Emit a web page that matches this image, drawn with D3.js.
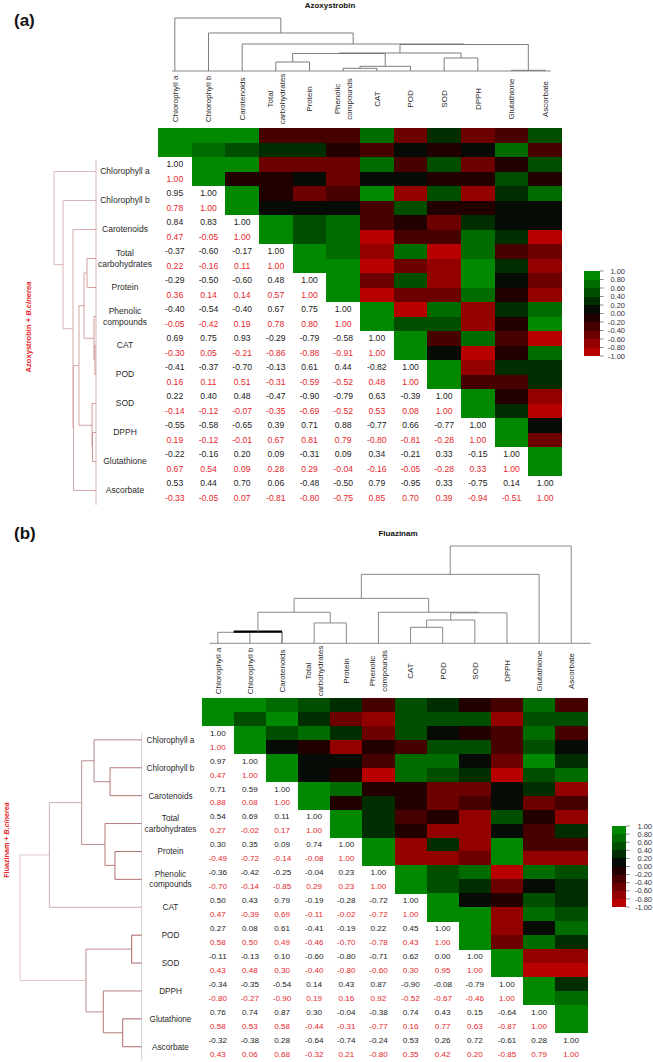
<!DOCTYPE html>
<html><head><meta charset="utf-8">
<script src="https://cdn.jsdelivr.net/npm/d3@7"></script>
<style>
html,body{margin:0;padding:0;background:#fff;}
svg{display:block;font-family:"Liberation Sans",Arial,Helvetica,sans-serif;}
</style></head><body>
<svg id="chart" width="653" height="1062"></svg>
<script>
// ---------- DATA ----------
const variables = ["Chlorophyll a","Chlorophyll b","Carotenoids","Total\ncarbohydrates","Protein","Phenolic\ncompounds","CAT","POD","SOD","DPPH","Glutathione","Ascorbate"];

// lower-triangular correlation rows (row i: correlations with variables 0..i)
const azoxyCorr = [
 [1.00],
 [0.95,1.00],
 [0.84,0.83,1.00],
 [-0.37,-0.60,-0.17,1.00],
 [-0.29,-0.50,-0.60,0.48,1.00],
 [-0.40,-0.54,-0.40,0.67,0.75,1.00],
 [0.69,0.75,0.93,-0.29,-0.79,-0.58,1.00],
 [-0.41,-0.37,-0.70,-0.13,0.61,0.44,-0.82,1.00],
 [0.22,0.40,0.48,-0.47,-0.90,-0.79,0.63,-0.39,1.00],
 [-0.55,-0.58,-0.65,0.39,0.71,0.88,-0.77,0.66,-0.77,1.00],
 [-0.22,-0.16,0.20,0.09,-0.31,0.09,0.34,-0.21,0.33,-0.15,1.00],
 [0.53,0.44,0.70,0.06,-0.48,-0.50,0.79,-0.95,0.33,-0.75,0.14,1.00]
];
const azoxyBcCorr = [
 [1.00],
 [0.78,1.00],
 [0.47,-0.05,1.00],
 [0.22,-0.16,0.11,1.00],
 [0.36,0.14,0.14,0.57,1.00],
 [-0.05,-0.42,0.19,0.78,0.80,1.00],
 [-0.30,0.05,-0.21,-0.86,-0.88,-0.91,1.00],
 [0.16,0.11,0.51,-0.31,-0.59,-0.52,0.48,1.00],
 [-0.14,-0.12,-0.07,-0.35,-0.69,-0.52,0.53,0.08,1.00],
 [0.19,-0.12,-0.01,0.67,0.81,0.79,-0.80,-0.81,-0.28,1.00],
 [0.67,0.54,0.09,0.28,0.29,-0.04,-0.16,-0.05,-0.28,0.33,1.00],
 [-0.33,-0.05,0.07,-0.81,-0.80,-0.75,0.85,0.70,0.39,-0.94,-0.51,1.00]
];
const fluazCorr = [
 [1.00],
 [0.97,1.00],
 [0.71,0.59,1.00],
 [0.54,0.69,0.11,1.00],
 [0.30,0.35,0.09,0.74,1.00],
 [-0.36,-0.42,-0.25,-0.04,0.23,1.00],
 [0.50,0.43,0.79,-0.19,-0.28,-0.72,1.00],
 [0.27,0.08,0.61,-0.41,-0.19,0.22,0.45,1.00],
 [-0.11,-0.13,0.10,-0.60,-0.80,-0.71,0.62,0.00,1.00],
 [-0.34,-0.35,-0.54,0.14,0.43,0.87,-0.90,-0.08,-0.79,1.00],
 [0.76,0.74,0.87,0.30,-0.04,-0.38,0.74,0.43,0.15,-0.64,1.00],
 [-0.32,-0.38,0.28,-0.64,-0.74,-0.24,0.53,0.26,0.72,-0.61,0.28,1.00]
];
const fluazBcCorr = [
 [1.00],
 [0.47,1.00],
 [0.88,0.08,1.00],
 [0.27,-0.02,0.17,1.00],
 [-0.49,-0.72,-0.14,-0.08,1.00],
 [-0.70,-0.14,-0.85,0.29,0.23,1.00],
 [0.47,-0.39,0.69,-0.11,-0.02,-0.72,1.00],
 [0.58,0.50,0.49,-0.46,-0.70,-0.78,0.43,1.00],
 [0.43,0.48,0.30,-0.40,-0.80,-0.60,0.30,0.95,1.00],
 [-0.80,-0.27,-0.90,0.19,0.16,0.92,-0.52,-0.67,-0.46,1.00],
 [0.58,0.53,0.58,-0.44,-0.31,-0.77,0.16,0.77,0.63,-0.87,1.00],
 [0.43,0.06,0.68,-0.32,0.21,-0.80,0.35,0.42,0.20,-0.85,0.79,1.00]
];

// dendrogram merges, hclust style: negative = leaf (1-based), positive = earlier merge; third = relative height
const azoxyTopMerges = [
 [-6,-7,0.051],[1,-8,0.089],[-4,-5,0.170],[-9,-10,0.245],[3,2,0.330],[5,4,0.340],
 [-11,-12,0.013],[6,7,0.500],[-3,8,0.509],[-2,9,0.717],[-1,10,1.0]
];
const azoxyBcLeftMerges = [
 [-7,-8,0.024],[-6,1,0.048],[-10,-11,0.083],[-9,3,0.095],[-4,-5,0.214],[5,2,0.286],
 [6,4,0.405],[7,-12,0.536],[-3,8,0.548],[-2,9,0.786],[-1,10,1.0]
];
const fluazTopMerges = [
 [-1,-2,0.113],[1,-3,0.119],[-4,-5,0.209],[-7,-8,0.164],[4,-9,0.239],[5,-10,0.313],
 [-6,6,0.319],[2,3,0.319],[8,7,0.462],[9,-11,0.709],[10,-12,1.0]
];
const fluazBcLeftMerges = [
 [-2,-3,0.250],[-1,1,0.376],[-5,-6,0.211],[-4,3,0.290],[2,4,0.474],[5,-7,0.729],
 [-8,-9,0.079],[-11,-12,0.150],[-10,8,0.303],[7,9,0.440],[6,10,0.96]
];

const legendTicks = ["1.00","0.80","0.60","0.40","0.20","0.00","-0.20","-0.40","-0.60","-0.80","-1.00"];
const binColors = ["#b80000","#920000","#6c0000","#460000","#220000","#060b06","#002e00","#004e00","#006c00","#008800"];

// ---------- DRAW ----------
const svg = d3.select("#chart");
const color = d3.scaleQuantize().domain([-1,1]).range(binColors);
const fmt = v => v.toFixed(2);
const RED = "#e8262b";

const panels = [
 { label:"(a)", labelX:14, labelY:26, title:"Azoxystrobin", titleX:330, titleY:8,
   top:azoxyCorr, bottom:azoxyBcCorr, topMerges:azoxyTopMerges, leftMerges:azoxyBcLeftMerges,
   heatX0:158, heatX1:562, heatY0:128, rowH:29,
   colLabelY:99, rowLabelX:125, colFont:8, rowFont:8.5, numFont:8.6, lineGap:11,
   topBase:71, topMax:18, topLineX:[172,551], topColor:"#6f6f6f", bold:-1,
   leftBase:96, leftMax:54, leftLineY:[160,505], leftLo:"#c98d8d", leftHi:"#d9b3b3", leftBaseColor:"#d8b4b4",
   side:"Azoxystrobin + ", sideX:31, sideY:327, sideFont:7.6,
   legX:584, legW:16, legY:271, legH:85, legTextX:625 },
 { label:"(b)", labelX:14, labelY:539, title:"Fluazinam", titleX:398, titleY:536,
   top:fluazCorr, bottom:fluazBcCorr, topMerges:fluazTopMerges, leftMerges:fluazBcLeftMerges,
   heatX0:201.7, heatX1:587.3, heatY0:698, rowH:27.9,
   colLabelY:671, rowLabelX:170.5, colFont:8, rowFont:8.2, numFont:8.1, lineGap:10.5,
   topBase:643.3, topMax:546, topLineX:[209.6,590.8], topColor:"#7a7a7a", bold:1,
   leftBase:141.7, leftMax:15, leftLineY:[733,1061], leftLo:"#9a4646", leftHi:"#dcc6c6", leftBaseColor:"#d6d0d0",
   side:"Fluazinam + ", sideX:9, sideY:840, sideFont:7.2,
   legX:612, legW:14, legY:826, legH:81, legTextX:652 }
];

function buildNodes(merges, leafPos) {
  const nodes = [];
  const get = id => id < 0 ? {pos: leafPos[-id-1], h: 0} : nodes[id-1];
  merges.forEach(([a,b,h]) => {
    const A = get(a), B = get(b);
    nodes.push({pos:(A.pos+B.pos)/2, h, A, B});
  });
  return nodes;
}

panels.forEach(p => {
  const g = svg.append("g");
  const n = variables.length;
  const xs = d3.scaleBand().domain(d3.range(n)).range([p.heatX0, p.heatX1]);
  const ys = d3.scaleBand().domain(d3.range(n+1)).range([p.heatY0, p.heatY0 + (n+1)*p.rowH]);
  const cw = xs.bandwidth(), rh = ys.bandwidth();

  // panel label and title
  g.append("text").attr("x", p.labelX).attr("y", p.labelY).text(p.label)
    .attr("font-size", 17).attr("font-weight", "bold").attr("fill", "#111");
  g.append("text").attr("x", p.titleX).attr("y", p.titleY).text(p.title)
    .attr("font-size", 8).attr("font-weight", "bold").attr("text-anchor", "middle").attr("fill", "#111");

  // heat cells (upper part, shifted one row up)
  const cells = [];
  for (let r = 0; r < n; r++) for (let j = r; j < n; j++) {
    cells.push({x: xs(j), y: ys(r), v: p.top[j][r]});
    cells.push({x: xs(j), y: ys(r) + rh/2, v: p.bottom[j][r]});
  }
  g.append("g").selectAll("rect").data(cells).join("rect")
    .attr("x", d => d.x).attr("y", d => d.y)
    .attr("width", cw + 0.4).attr("height", rh/2 + 0.4)
    .attr("fill", d => color(d.v)).attr("shape-rendering", "crispEdges");

  // numbers (lower triangle incl. diagonal)
  const nums = [];
  for (let r = 0; r < n; r++) for (let j = 0; j <= r; j++) {
    nums.push({x: xs(j) + cw/2, y: ys(r+1) + rh*0.25, v: p.top[r][j], c: "#222"});
    nums.push({x: xs(j) + cw/2, y: ys(r+1) + rh*0.75, v: p.bottom[r][j], c: RED});
  }
  g.append("g").selectAll("text").data(nums).join("text")
    .attr("x", d => d.x).attr("y", d => d.y).attr("dy", "0.35em")
    .attr("text-anchor", "middle").attr("font-size", p.numFont)
    .attr("fill", d => d.c).text(d => fmt(d.v));

  // row labels
  variables.forEach((name, i) => {
    const lines = name.split("\n");
    const cy = ys(i+1) + rh/2;
    const t = g.append("text").attr("text-anchor", "middle").attr("font-size", p.rowFont).attr("fill", "#2a2a2a");
    lines.forEach((ln, k) => {
      t.append("tspan").attr("x", p.rowLabelX)
        .attr("y", cy + (k - (lines.length-1)/2) * p.lineGap).attr("dy", "0.35em").text(ln);
    });
  });

  // column labels (rotated)
  variables.forEach((name, i) => {
    const lines = name.split("\n");
    const cx = xs(i) + cw/2;
    lines.forEach((ln, k) => {
      const off = (k - (lines.length-1)/2) * 12;
      g.append("text").attr("transform", `translate(${cx + off},${p.colLabelY}) rotate(-90)`)
        .attr("text-anchor", "middle").attr("dy", "0.35em")
        .attr("font-size", p.colFont).attr("fill", "#2a2a2a").text(ln);
    });
  });

  // top dendrogram
  const hTop = d3.scaleLinear().domain([0,1]).range([p.topBase, p.topMax]);
  const topLeaf = d3.range(n).map(i => xs(i) + cw/2);
  const topNodes = buildNodes(p.topMerges, topLeaf);
  g.append("line").attr("x1", p.topLineX[0]).attr("x2", p.topLineX[1])
    .attr("y1", p.topBase).attr("y2", p.topBase).attr("stroke", "#8a8a8a").attr("stroke-width", 1);
  topNodes.forEach((nd, idx) => {
    const isBold = idx === p.bold;
    g.append("path")
      .attr("d", `M${nd.A.pos},${hTop(nd.A.h)}V${hTop(nd.h)}H${nd.B.pos}V${hTop(nd.B.h)}`)
      .attr("fill", "none").attr("stroke", isBold ? "#333" : p.topColor).attr("stroke-width", 0.9);
    if (isBold) {
      g.append("line").attr("x1", nd.A.pos).attr("x2", nd.B.pos)
        .attr("y1", hTop(nd.h)).attr("y2", hTop(nd.h)).attr("stroke", "#000").attr("stroke-width", 2.2);
    }
  });

  // left dendrogram
  const hLeft = d3.scaleLinear().domain([0,1]).range([p.leftBase, p.leftMax]);
  const leftLeaf = d3.range(n).map(i => ys(i+1) + rh/2);
  const leftNodes = buildNodes(p.leftMerges, leftLeaf);
  const lcol = d3.interpolateRgb(p.leftLo, p.leftHi);
  g.append("line").attr("x1", p.leftBase).attr("x2", p.leftBase)
    .attr("y1", p.leftLineY[0]).attr("y2", p.leftLineY[1]).attr("stroke", p.leftBaseColor).attr("stroke-width", 1);
  leftNodes.forEach(nd => {
    g.append("path")
      .attr("d", `M${hLeft(nd.A.h)},${nd.A.pos}H${hLeft(nd.h)}V${nd.B.pos}H${hLeft(nd.B.h)}`)
      .attr("fill", "none").attr("stroke", lcol(nd.h)).attr("stroke-width", 0.9);
  });

  // side label
  const st = g.append("text").attr("transform", `translate(${p.sideX},${p.sideY}) rotate(-90)`)
    .attr("text-anchor", "middle").attr("font-size", p.sideFont).attr("font-weight", "bold").attr("fill", RED);
  st.append("tspan").text(p.side);
  st.append("tspan").attr("font-style", "italic").text("B.cinerea");

  // legend
  const ly = d3.scaleLinear().domain([1,-1]).range([p.legY, p.legY + p.legH]);
  const bins = d3.range(10).map(i => ({hi: 1 - i*0.2, lo: 1 - (i+1)*0.2}));
  g.append("g").selectAll("rect").data(bins).join("rect")
    .attr("x", p.legX).attr("width", p.legW)
    .attr("y", d => ly(d.hi)).attr("height", d => ly(d.lo) - ly(d.hi) + 0.3)
    .attr("fill", d => color((d.hi + d.lo)/2)).attr("shape-rendering", "crispEdges");
  legendTicks.forEach(t => {
    const y = ly(+t);
    g.append("line").attr("x1", p.legX + p.legW).attr("x2", p.legX + p.legW + 3.5)
      .attr("y1", y).attr("y2", y).attr("stroke", "#555").attr("stroke-width", 0.7);
    g.append("text").attr("x", p.legTextX).attr("y", y).attr("dy", "0.35em")
      .attr("text-anchor", "end").attr("font-size", 7.5).attr("fill", "#333").text(t);
  });
});
</script>
</body></html>
